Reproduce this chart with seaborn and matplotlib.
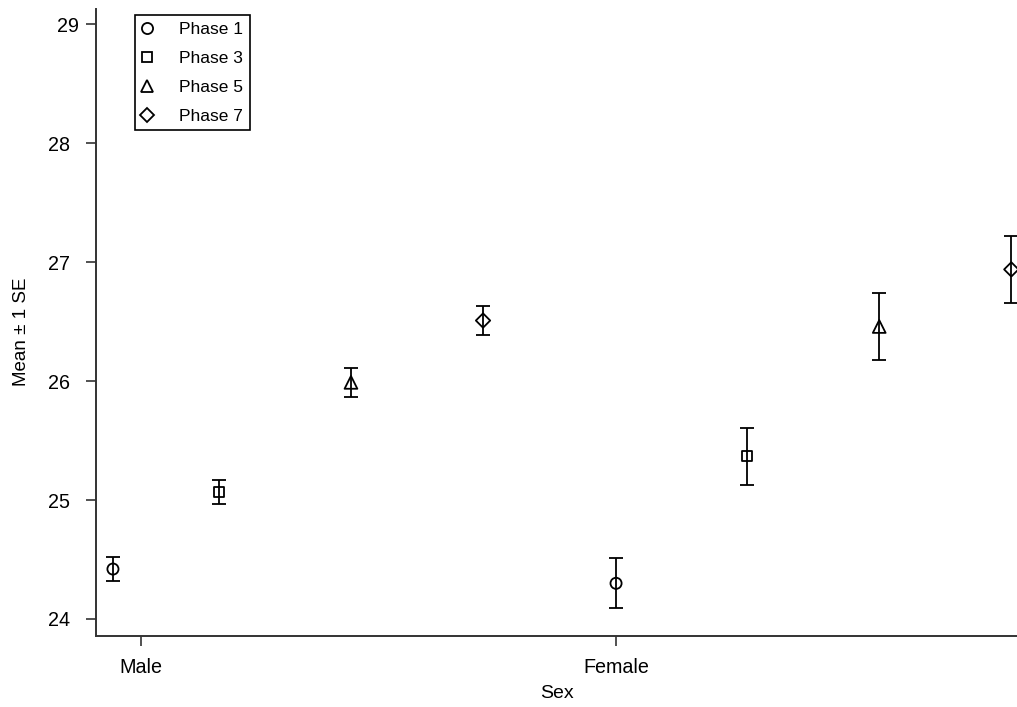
import matplotlib
matplotlib.use("Agg")
import numpy as np
import pandas as pd
import matplotlib.pyplot as plt
from matplotlib.lines import Line2D
from matplotlib.transforms import ScaledTranslation
import seaborn as sns

# data
sexes = ["Male", "Female"]
phases = ["Phase 1", "Phase 3", "Phase 5", "Phase 7"]
male_mean = [24.42, 25.07, 25.99, 26.51]
male_se = [0.10, 0.10, 0.12, 0.125]
female_mean = [24.30, 25.37, 26.46, 26.94]
female_se = [0.21, 0.24, 0.285, 0.28]

# dodge of each phase inside a sex group (layout)
dodge = {"Male": [-0.059, 0.164, 0.442, 0.72],
         "Female": [0.0, 0.276, 0.554, 0.832]}
markers = {"Phase 1": ("o", 8.0), "Phase 3": ("s", 7.4),
           "Phase 5": ("^", 9.2), "Phase 7": ("D", 7.3)}

rows = []
for i, (sex, means, ses) in enumerate([("Male", male_mean, male_se),
                                       ("Female", female_mean, female_se)]):
    for j, ph in enumerate(phases):
        rows.append({"sex": sex, "phase": ph, "mean": means[j], "se": ses[j],
                     "pos": i + dodge[sex][j]})
df = pd.DataFrame(rows)

sns.set_style("ticks")
plt.rcParams["font.family"] = ["Liberation Sans", "DejaVu Sans"]
plt.rcParams["text.color"] = "black"
plt.rcParams["axes.labelcolor"] = "black"

fig = plt.figure(figsize=(10.17, 7.07), dpi=100)
ax = fig.add_axes([96 / 1017, 71 / 707, 921 / 1017, 627 / 707])

for ph in phases:
    sub = df[df.phase == ph]
    ax.errorbar(sub["pos"], sub["mean"], yerr=sub["se"], fmt="none",
                ecolor="black", elinewidth=1.3, capsize=5, capthick=1.3)
    m, ms = markers[ph]
    sns.scatterplot(data=sub, x="pos", y="mean", marker=m, s=ms ** 2,
                    facecolor="none", edgecolor="black", linewidth=1.3,
                    legend=False, ax=ax, zorder=3)

ax.set_xlim(-0.0947, 1.844)
ax.set_ylim(23.857, 29.13)
ax.set_xticks([0, 1])
ax.set_xticklabels(sexes)
ax.set_yticks([24, 25, 26, 27, 28, 29])

for side in ["top", "right"]:
    ax.spines[side].set_visible(False)
for side in ["left", "bottom"]:
    ax.spines[side].set_linewidth(1.4)
    ax.spines[side].set_color("#333333")

ax.tick_params(axis="both", direction="out", length=7.5, width=1.2,
               color="#333333", labelsize=14.2, labelcolor="black")
ax.tick_params(axis="y", pad=11)
ax.tick_params(axis="x", pad=8)

# the top label sits a little further right in the original
top = ax.get_yticklabels()[-1]
top.set_transform(top.get_transform() + ScaledTranslation(0.09, 0, fig.dpi_scale_trans))

ax.set_xlabel("Sex", fontsize=14, labelpad=6)
ax.set_ylabel("Mean \u00b1 1 SE", fontsize=13.5)
ax.yaxis.set_label_coords(-0.0717, 0.485)

handles = [Line2D([], [], linestyle="none", marker=markers[ph][0],
                  markersize=markers[ph][1], markerfacecolor="none",
                  markeredgecolor="black", markeredgewidth=1.3)
           for ph in phases]
leg = ax.legend(handles, phases, loc="upper left",
                bbox_to_anchor=(135 / 1017, 1 - 15 / 707),
                bbox_transform=fig.transFigure, borderaxespad=0,
                fontsize=12.5, frameon=True, fancybox=False, framealpha=1,
                edgecolor="black", borderpad=0.38, handlelength=0.6,
                handletextpad=1.55, labelspacing=0.8)
leg.get_frame().set_linewidth(1.2)

fig.savefig("out.png", dpi=100)
